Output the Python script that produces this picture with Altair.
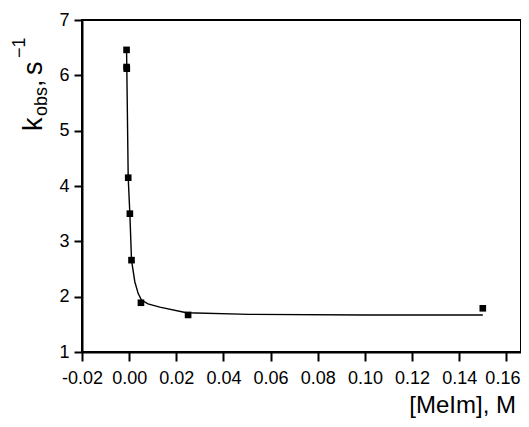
import altair as alt
import pandas as pd

# measured data points ([MeIm] in M, k_obs in s^-1)
conc = [-0.0011, -0.0011, -0.0010, -0.0004, 0.0003, 0.0010, 0.0050, 0.0250, 0.1500]
kobs = [6.46, 6.15, 6.12, 4.15, 3.50, 2.66, 1.89, 1.67, 1.79]

# fitted curve
fit_conc = [-0.0011, -0.0010, -0.0004, 0.0003, 0.0010, 0.0024, 0.0038, 0.0052,
            0.0080, 0.0130, 0.0243, 0.0510, 0.1000, 0.1500]
fit_kobs = [6.46, 6.15, 4.15, 3.50, 2.66, 2.27, 2.06, 1.94,
            1.87, 1.81, 1.71, 1.68, 1.67, 1.67]

x_ticks = [-0.02, 0.0, 0.02, 0.04, 0.06, 0.08, 0.10, 0.12, 0.14, 0.16]
y_ticks = [1, 2, 3, 4, 5, 6, 7]

FONT = "Liberation Sans"

pts = pd.DataFrame({"conc": conc, "kobs": kobs})
fit = pd.DataFrame({"conc": fit_conc, "kobs": fit_kobs, "i": list(range(len(fit_conc)))})
one = pd.DataFrame({"d": [0]})

xs = alt.Scale(domain=[-0.02, 0.1662], nice=False, zero=False)
ys = alt.Scale(domain=[1, 7], nice=False, zero=False)

x_axis = alt.Axis(values=x_ticks, title=None, grid=False, labelOverlap=False,
                  labelFlush=False, labelBound=False,
                  labelExpr="datum.value < 0 ? '-' + format(-datum.value, '.2f') : format(datum.value, '.2f')",
                  labelOffset={"condition": {"test": "datum.value > 0.15", "value": -4}, "value": 0},
                  labelFont=FONT, labelFontSize=18, labelColor="black",
                  tickSize=9, tickWidth=2, tickColor="black",
                  domainColor="black", domainWidth=2, labelPadding=8)
y_axis = alt.Axis(values=y_ticks, title=None, grid=False, format="d", labelOverlap=False,
                  labelFont=FONT, labelFontSize=18, labelColor="black",
                  tickSize=8, tickWidth=2, tickColor="black",
                  domainColor="black", domainWidth=2, labelPadding=5)

line = alt.Chart(fit).mark_line(color="black", strokeWidth=1.4).encode(
    x=alt.X("conc:Q", scale=xs, axis=x_axis),
    y=alt.Y("kobs:Q", scale=ys, axis=y_axis),
    order="i:Q",
)
points = alt.Chart(pts).mark_square(color="black", size=44, opacity=1).encode(
    x=alt.X("conc:Q", scale=xs),
    y=alt.Y("kobs:Q", scale=ys),
)

def txt(s, x, y, size, angle=270, align="left"):
    return alt.Chart(one).mark_text(text=s, font=FONT, fontSize=size, color="black",
                                    angle=angle, align=align, baseline="alphabetic").encode(
        x=alt.value(x), y=alt.value(y))

ytitle = [
    txt("k", -40, 111, 27),
    txt("obs", -35, 96, 18),
    txt(",", -40, 67, 27),
    txt("s", -40, 55, 27),
    txt("\u22121", -57, 38, 18),
]
xtitle = txt("[MeIm], M", 434, 393, 24, angle=0, align="right")

chart = alt.layer(line, points, *ytitle, xtitle).properties(
    width=439, height=332,
    autosize=alt.AutoSizeParams(type="none"),
    padding={"left": 74, "top": 12, "right": 0, "bottom": 67},
).configure_view(stroke="black", strokeWidth=2)

chart.save("out.html", embed_options={"renderer": "svg", "actions": False})
